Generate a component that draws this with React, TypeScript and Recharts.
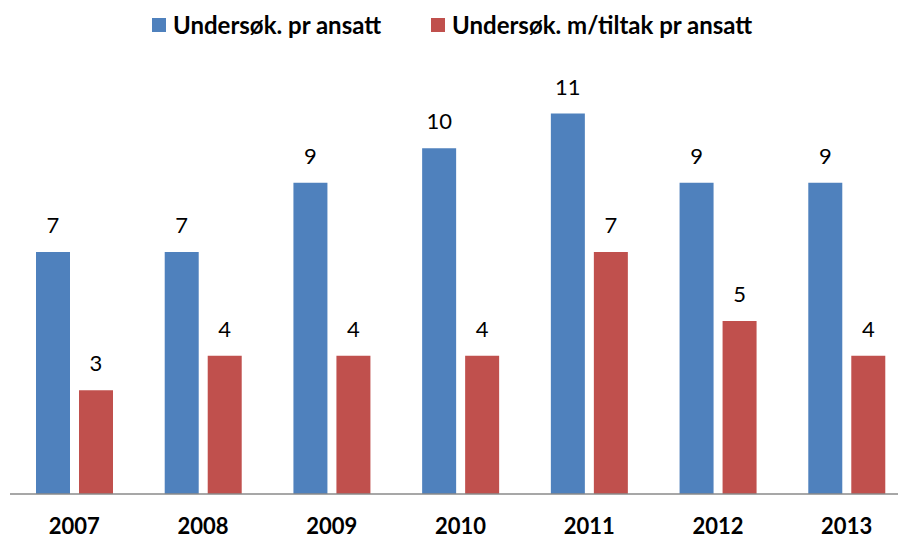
import React from "react";
import { BarChart, Bar, XAxis, YAxis, LabelList } from "recharts";

// årstall og verdier lest fra figuren
const years = ["2007", "2008", "2009", "2010", "2011", "2012", "2013"];
const undersokPrAnsatt = [7, 7, 9, 10, 11, 9, 9];
const medTiltakPrAnsatt = [3, 4, 4, 4, 7, 5, 4];

const BLUE = "#4F81BD";
const RED = "#C0504D";
const FONT = "Lato, 'Open Sans', sans-serif";

const data = years.map((y, i) => ({
  year: y,
  a: undersokPrAnsatt[i],
  b: medTiltakPrAnsatt[i],
}));

function Legend() {
  const items = [
    { label: "Undersøk. pr ansatt", color: BLUE },
    { label: "Undersøk. m/tiltak pr ansatt", color: RED },
  ];
  return (
    <div
      style={{
        position: "absolute",
        top: 10,
        left: 152,
        display: "flex",
        gap: 50,
        fontFamily: FONT,
        fontWeight: 700,
        fontSize: 24,
        lineHeight: "30px",
        color: "#000",
      }}
    >
      {items.map((it) => (
        <div key={it.label} style={{ display: "flex", alignItems: "center" }}>
          <span
            style={{
              display: "inline-block",
              width: 14,
              height: 14,
              background: it.color,
              marginRight: 7,
            }}
          />
          <span>{it.label}</span>
        </div>
      ))}
    </div>
  );
}

export default function App() {
  return (
    <div
      style={{
        position: "fixed",
        top: 0,
        left: 0,
        width: 898,
        height: 539,
        overflow: "hidden",
        background: "#fff",
      }}
    >
      <Legend />
      <div style={{ position: "absolute", top: 0, left: 0 }}>
        <BarChart
          width={920}
          height={539}
          data={data}
          margin={{ top: 79, right: 9, bottom: 15, left: 10 }}
          barGap={9}
          barSize={34}
        >
          <XAxis
            dataKey="year"
            height={30}
            tickLine={false}
            tickSize={0}
            tickMargin={24}
            axisLine={{ stroke: "#8a8a8a", strokeWidth: 1.5 }}
            tick={{ fill: "#000", fontSize: 22, fontWeight: 700, fontFamily: FONT }}
          />
          <YAxis hide domain={[0, 12]} />
          <Bar dataKey="a" fill={BLUE} isAnimationActive={false}>
            <LabelList
              dataKey="a"
              position="top"
              offset={19}
              style={{ fill: "#000", fontSize: 22, fontFamily: FONT }}
            />
          </Bar>
          <Bar dataKey="b" fill={RED} isAnimationActive={false}>
            <LabelList
              dataKey="b"
              position="top"
              offset={19}
              style={{ fill: "#000", fontSize: 22, fontFamily: FONT }}
            />
          </Bar>
        </BarChart>
      </div>
    </div>
  );
}
